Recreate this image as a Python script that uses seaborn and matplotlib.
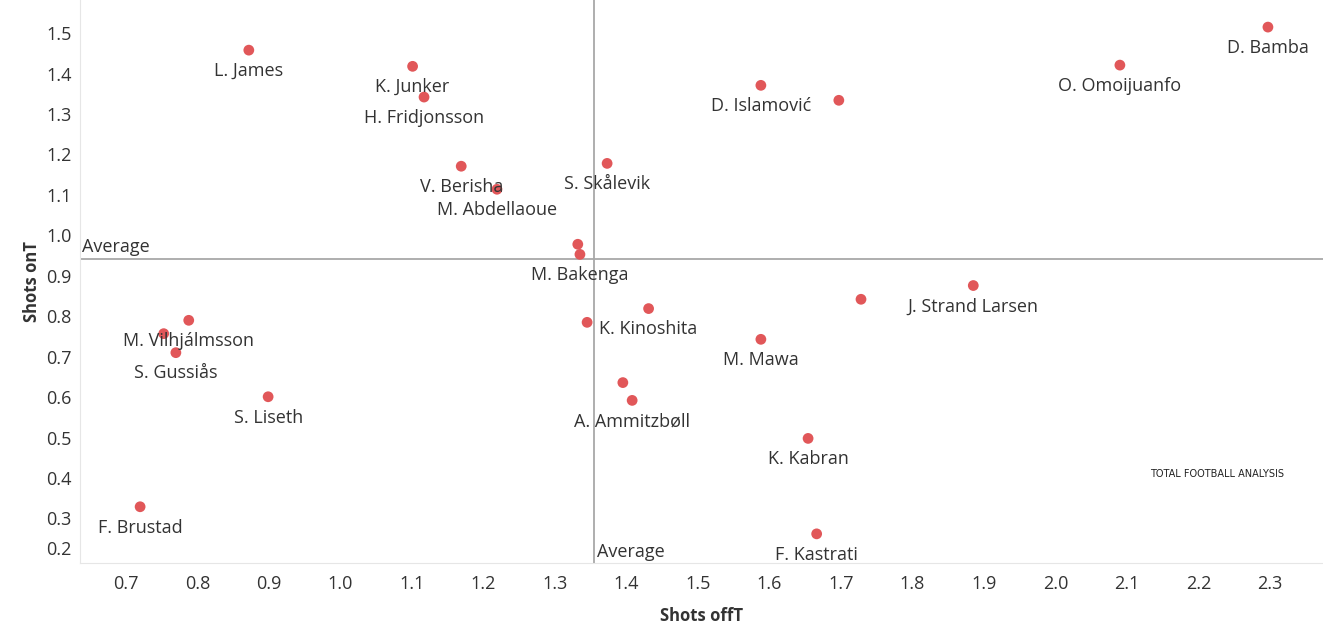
import matplotlib
matplotlib.use("Agg")
import matplotlib.pyplot as plt
import pandas as pd
import seaborn as sns

# players, shots off target and shots on target (per 90)
players = [
    "L. James", "K. Junker", "H. Fridjonsson", "V. Berisha", "M. Abdellaoue",
    "S. Skålevik", "", "M. Bakenga", "D. Islamović", "", "O. Omoijuanfo",
    "D. Bamba", "J. Strand Larsen", "", "K. Kinoshita", "", "M. Mawa",
    "", "A. Ammitzbøll", "K. Kabran", "F. Kastrati", "M. Vilhjálmsson", "",
    "S. Gussiås", "S. Liseth", "F. Brustad",
]
shots_off = [
    0.872, 1.101, 1.117, 1.169, 1.219,
    1.373, 1.332, 1.335, 1.588, 1.697, 2.090,
    2.297, 1.885, 1.728, 1.431, 1.345, 1.588,
    1.395, 1.408, 1.654, 1.666, 0.788, 0.753,
    0.770, 0.899, 0.720,
]
shots_on = [
    1.458, 1.418, 1.342, 1.171, 1.114,
    1.178, 0.978, 0.953, 1.371, 1.334, 1.421,
    1.515, 0.876, 0.842, 0.819, 0.785, 0.743,
    0.636, 0.592, 0.498, 0.262, 0.790, 0.757,
    0.710, 0.601, 0.329,
]
avg_off = 1.3545
avg_on = 0.941

x_ticks = [0.7, 0.8, 0.9, 1.0, 1.1, 1.2, 1.3, 1.4, 1.5, 1.6, 1.7, 1.8, 1.9, 2.0, 2.1, 2.2, 2.3]
y_ticks = [0.2, 0.3, 0.4, 0.5, 0.6, 0.7, 0.8, 0.9, 1.0, 1.1, 1.2, 1.3, 1.4, 1.5]

sns.set_style("white")
plt.rcParams["font.family"] = ["Open Sans", "DejaVu Sans"]

TEXT = "#333333"
df = pd.DataFrame({"player": players, "off": shots_off, "on": shots_on})

fig = plt.figure(figsize=(13.23, 6.38), dpi=100)
ax = fig.add_axes([0.0605, 0.1176, 0.9395, 0.8824])

sns.scatterplot(data=df, x="off", y="on", color="#e15759", s=60,
                edgecolor="none", ax=ax, zorder=3)

for name, x, y in zip(players, shots_off, shots_on):
    if name:
        ax.annotate(name, (x, y), xytext=(0, -8.5), textcoords="offset points",
                    ha="center", va="top", fontsize=13, color=TEXT, zorder=4)

ax.axhline(avg_on, color="#a8a8a8", linewidth=1.3, zorder=1)
ax.axvline(avg_off, color="#a8a8a8", linewidth=1.3, zorder=1)
ax.text(0.639, avg_on + 0.008, "Average", fontsize=13, color=TEXT,
        ha="left", va="bottom")
ax.text(avg_off + 0.005, 0.195, "Average", fontsize=13, color=TEXT,
        ha="left", va="bottom")

# watermark
ax.text(2.226, 0.41, "TOTAL FOOTBALL ANALYSIS", fontsize=7, color="#222222",
        ha="center", va="center", fontfamily="Liberation Sans Narrow")

ax.set_xlim(0.636, 2.374)
ax.set_ylim(0.19, 1.582)
ax.set_xticks(x_ticks)
ax.set_yticks(y_ticks)
ax.set_xticklabels([f"{t:.1f}" for t in x_ticks])
ax.set_yticklabels([f"{t:.1f}" for t in y_ticks])
ax.tick_params(axis="both", labelsize=13, colors="#d8d8d8", labelcolor=TEXT,
               length=5, width=0.8)
ax.tick_params(axis="y", length=0, pad=6)
ax.get_yticklabels()[0].set_va("bottom")

for side in ["top", "right"]:
    ax.spines[side].set_visible(False)
for side in ["left", "bottom"]:
    ax.spines[side].set_color("#e6e6e6")

ax.set_xlabel("Shots offT", fontsize=12, fontweight="bold", color=TEXT, labelpad=10)
ax.set_ylabel("Shots onT", fontsize=12, fontweight="bold", color=TEXT, labelpad=4)

fig.savefig("out.png", dpi=100)
